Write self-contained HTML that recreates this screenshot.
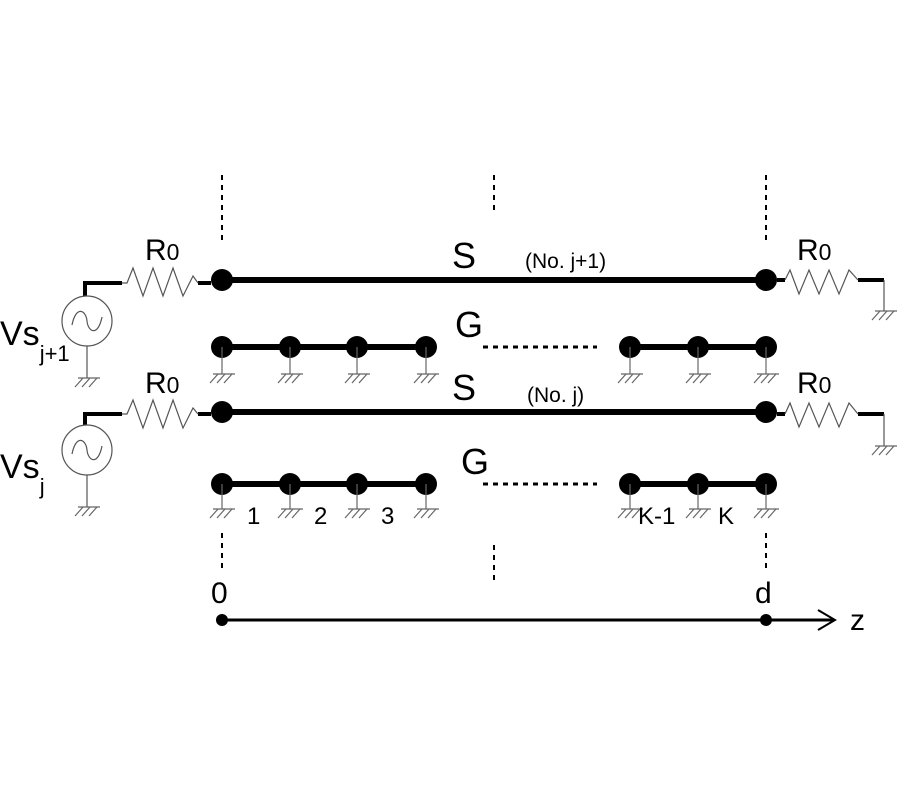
<!DOCTYPE html>
<html><head><style>body{margin:0;background:#fff}svg{display:block}text{font-family:"Liberation Sans",Arial,sans-serif;fill:#000}</style></head><body>
<svg width="900" height="800" viewBox="0 0 900 800">
<defs>
<g id="gnd" stroke="#666" stroke-width="1.2" fill="none"><line x1="-9" y1="0" x2="13" y2="0"/><line x1="-4" y1="0" x2="-12" y2="9"/><line x1="3" y1="0" x2="-5" y2="9"/><line x1="10" y1="0" x2="2" y2="9"/></g>
</defs>
<g stroke="#000" stroke-width="2" stroke-dasharray="5,5">
<line x1="222" y1="175" x2="222" y2="245"/><line x1="494" y1="175" x2="494" y2="212"/><line x1="766" y1="175" x2="766" y2="245"/>
<line x1="222" y1="533" x2="222" y2="568"/><line x1="494" y1="545" x2="494" y2="585"/><line x1="766" y1="533" x2="766" y2="568"/>
<line x1="483" y1="347" x2="597" y2="347" stroke-width="3"/><line x1="483" y1="484" x2="597" y2="484" stroke-width="3"/>
</g>
<g stroke="#000" stroke-width="6"><line x1="222" y1="280" x2="766" y2="280"/><line x1="222" y1="412" x2="766" y2="412"/>
<line x1="222" y1="347" x2="426" y2="347"/><line x1="630" y1="347" x2="766" y2="347"/>
<line x1="222" y1="484" x2="426" y2="484"/><line x1="630" y1="484" x2="766" y2="484"/></g>
<g fill="#000">
<circle cx="222" cy="280" r="11"/><circle cx="766" cy="280" r="11"/><circle cx="222" cy="412" r="11"/><circle cx="766" cy="412" r="11"/>
<circle cx="222" cy="347" r="11"/><circle cx="290" cy="347" r="11"/><circle cx="357" cy="347" r="11"/><circle cx="426" cy="347" r="11"/>
<circle cx="630" cy="347" r="11"/><circle cx="698" cy="347" r="11"/><circle cx="766" cy="347" r="11"/>
<circle cx="222" cy="484" r="11"/><circle cx="290" cy="484" r="11"/><circle cx="357" cy="484" r="11"/><circle cx="426" cy="484" r="11"/>
<circle cx="630" cy="484" r="11"/><circle cx="698" cy="484" r="11"/><circle cx="766" cy="484" r="11"/>
</g>
<g stroke="#666" stroke-width="1.2">
<line x1="222" y1="347" x2="222" y2="374"/><line x1="290" y1="347" x2="290" y2="374"/><line x1="357" y1="347" x2="357" y2="374"/><line x1="426" y1="347" x2="426" y2="374"/>
<line x1="630" y1="347" x2="630" y2="374"/><line x1="698" y1="347" x2="698" y2="374"/><line x1="766" y1="347" x2="766" y2="374"/>
<line x1="222" y1="484" x2="222" y2="509"/><line x1="290" y1="484" x2="290" y2="509"/><line x1="357" y1="484" x2="357" y2="509"/><line x1="426" y1="484" x2="426" y2="509"/>
<line x1="630" y1="484" x2="630" y2="509"/><line x1="698" y1="484" x2="698" y2="509"/><line x1="766" y1="484" x2="766" y2="509"/>
</g>
<use href="#gnd" x="222" y="374"/><use href="#gnd" x="290" y="374"/><use href="#gnd" x="357" y="374"/><use href="#gnd" x="426" y="374"/>
<use href="#gnd" x="630" y="374"/><use href="#gnd" x="698" y="374"/><use href="#gnd" x="766" y="374"/>
<use href="#gnd" x="222" y="509"/><use href="#gnd" x="290" y="509"/><use href="#gnd" x="357" y="509"/><use href="#gnd" x="426" y="509"/>
<use href="#gnd" x="630" y="509"/><use href="#gnd" x="698" y="509"/><use href="#gnd" x="766" y="509"/>
<g fill="none" stroke="#000">
<polyline points="85,296 85,283 122,283" stroke-width="4"/>
<polyline points="198,283 211,283" stroke-width="4"/>
<polyline points="122,283 127,283 133,268 143,296 153,268 163,296 173,268 183,296 193,276 198,283" stroke="#555" stroke-width="1.2"/>
<polyline points="85,425 85,414 122,414" stroke-width="4"/>
<polyline points="198,414 211,414" stroke-width="4"/>
<polyline points="122,414 127,414 133,400 143,428 153,400 163,428 173,400 183,428 193,408 198,414" stroke="#555" stroke-width="1.2"/>
<circle cx="87" cy="321" r="25" stroke="#555" stroke-width="1.2"/>
<circle cx="87" cy="450" r="25" stroke="#555" stroke-width="1.2"/>
<path d="M72,325 C76,305 86,310 87,321 C88,332 98,337 102,317" stroke="#555" stroke-width="1.2"/>
<path d="M72,454 C76,434 86,439 87,450 C88,461 98,466 102,446" stroke="#555" stroke-width="1.2"/>
<line x1="87" y1="346" x2="87" y2="378" stroke="#555" stroke-width="1.2"/>
<line x1="87" y1="475" x2="87" y2="507" stroke="#555" stroke-width="1.2"/>
<polyline points="777,280 785,280" stroke-width="4"/><polyline points="858,280 884,280" stroke-width="4"/>
<polyline points="785,280 790,270 799,294 809,270 819,294 829,270 839,294 849,270 858,280" stroke="#555" stroke-width="1.2"/>
<polyline points="777,414 785,414" stroke-width="4"/><polyline points="858,414 884,414" stroke-width="4"/>
<polyline points="785,414 790,403 799,427 809,403 819,427 829,403 839,427 849,403 858,414" stroke="#555" stroke-width="1.2"/>
<line x1="884" y1="280" x2="884" y2="311" stroke="#555" stroke-width="1.2"/>
<line x1="884" y1="414" x2="884" y2="446" stroke="#555" stroke-width="1.2"/>
</g>
<use href="#gnd" x="87" y="378"/><use href="#gnd" x="87" y="507"/>
<use href="#gnd" x="884" y="311"/><use href="#gnd" x="884" y="446"/>
<line x1="222" y1="620" x2="833" y2="620" stroke="#000" stroke-width="3"/>
<polyline points="818,610 835,620 818,630" fill="none" stroke="#000" stroke-width="2"/>
<circle cx="222" cy="620" r="6" fill="#000"/><circle cx="766" cy="620" r="6" fill="#000"/>
<g font-size="30">
<text x="145" y="260">R<tspan font-size="23">0</tspan></text>
<text x="145" y="393">R<tspan font-size="23">0</tspan></text>
<text x="797" y="260">R<tspan font-size="23">0</tspan></text>
<text x="797" y="393">R<tspan font-size="23">0</tspan></text>
<text x="0" y="345" font-size="34">Vs<tspan font-size="22" dy="16">j+1</tspan></text>
<text x="0" y="478" font-size="34">Vs<tspan font-size="22" dy="16">j</tspan></text>
<text x="211" y="603">0</text><text x="755" y="603">d</text><text x="850" y="630">z</text>
</g>
<g font-size="36"><text x="452" y="268">S</text><text x="452" y="400">S</text><text x="455" y="337">G</text><text x="461" y="474">G</text></g>
<g font-size="21"><text x="525" y="268">(No. j+1)</text><text x="527" y="402">(No. j)</text></g>
<g font-size="24"><text x="247" y="524">1</text><text x="314" y="524">2</text><text x="381" y="524">3</text><text x="638" y="524">K-1</text><text x="718" y="524">K</text></g>
</svg>
</body></html>
